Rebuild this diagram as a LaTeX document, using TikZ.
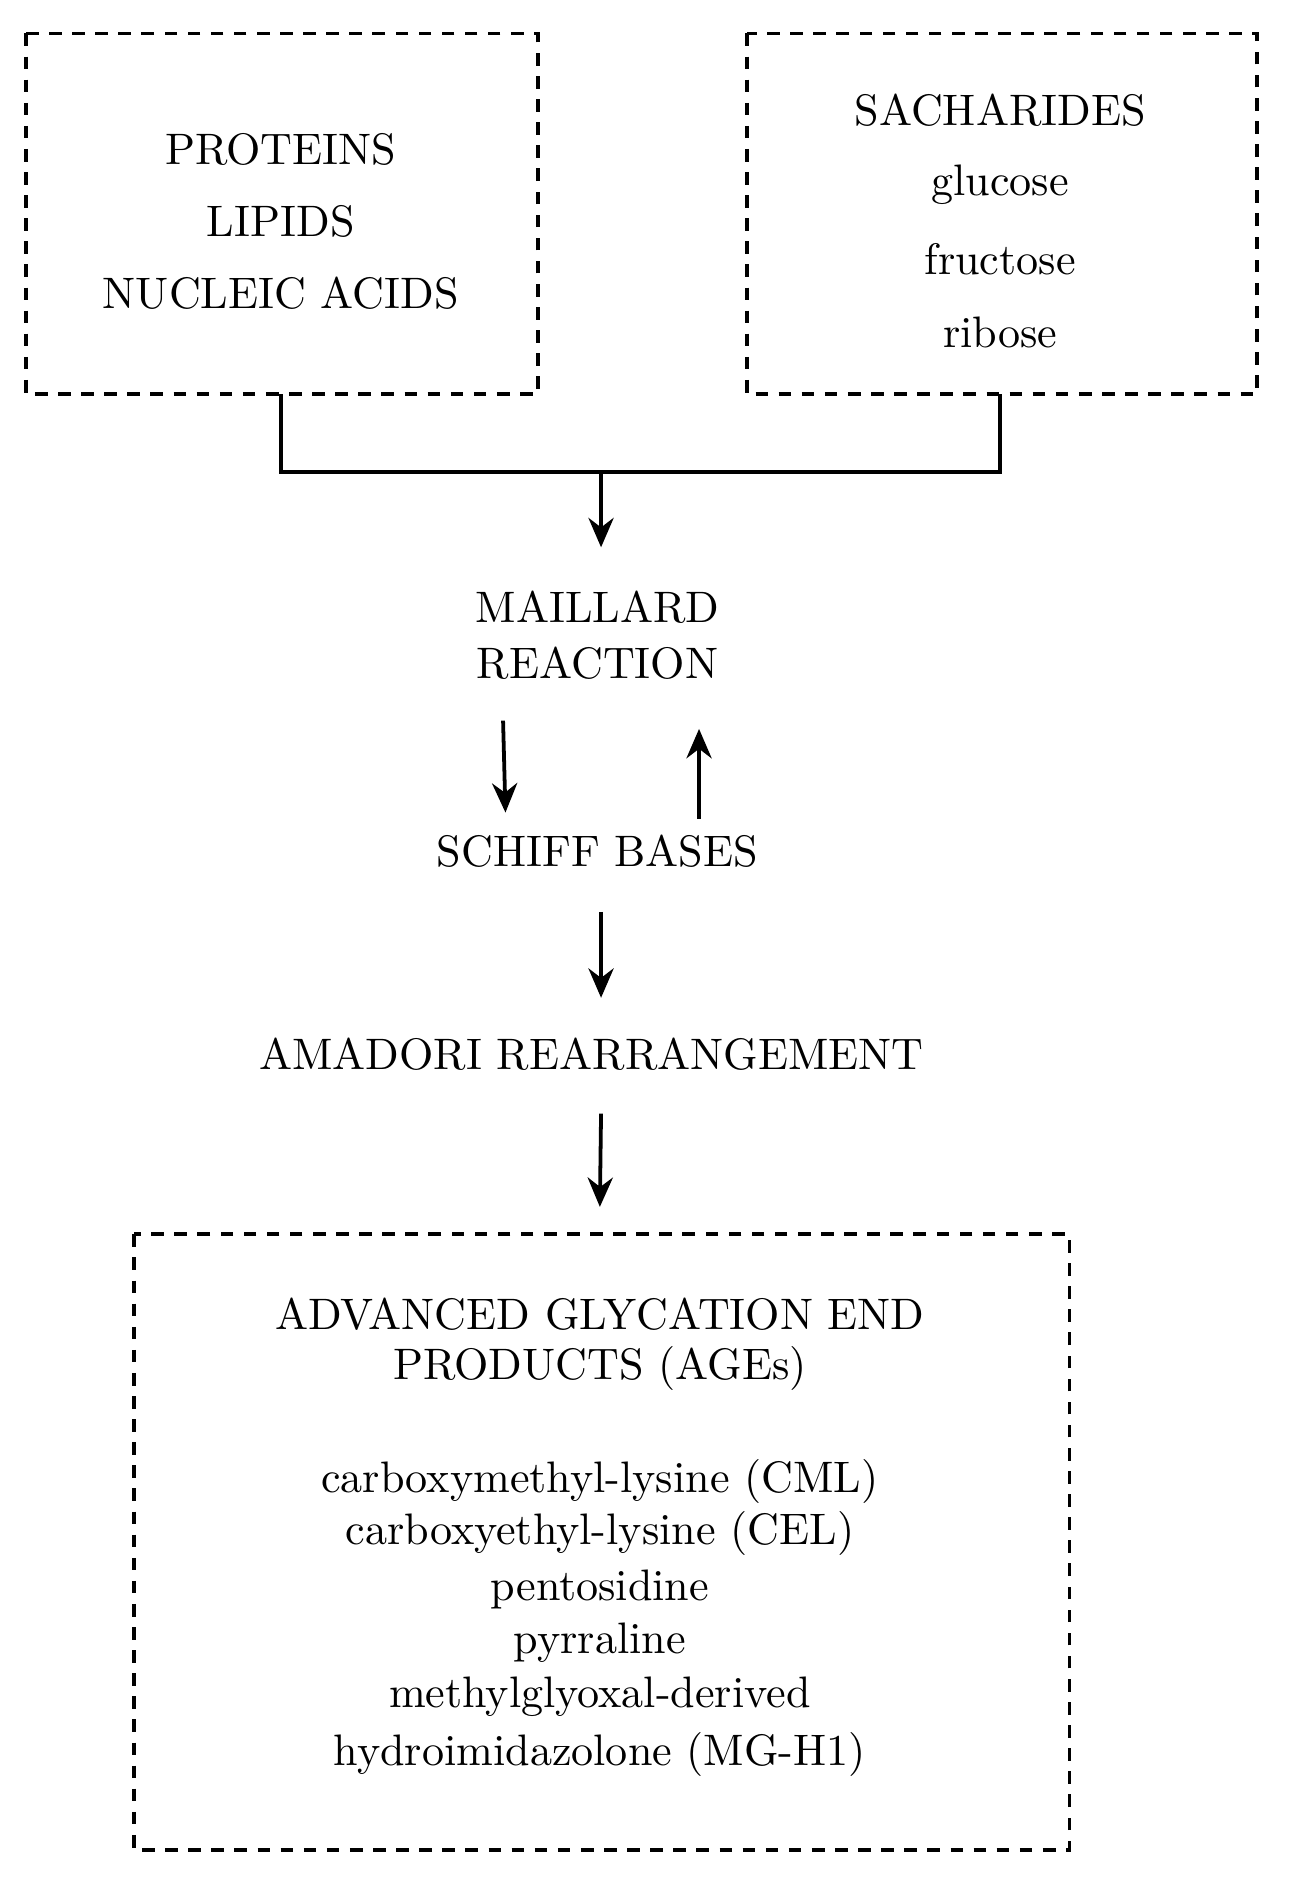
\documentclass[tikz,border=0pt]{standalone}
\usetikzlibrary{arrows.meta}
\begin{document}
\begin{tikzpicture}[x=0.1mm,y=-0.1mm,
  box/.style={draw,dashed,line width=0.9pt,dash pattern=on 3pt off 2.5pt},
  txt/.style={font=\fontsize{10.5}{12}\selectfont,inner sep=0},
  arr/.style={line width=0.9pt,-{Stealth[length=7pt,width=6pt]}},
  ln/.style={line width=0.9pt}]
\useasboundingbox (0,0) rectangle (1080,1580);
\draw[box] (22,28) rectangle (450,330);
\draw[box] (625,28) rectangle (1052,330);
\draw[box] (112,1033) rectangle (895,1548);
\node[txt] (p) at (235,125) {PROTEINS};
\node[txt] (l) at (235,185) {LIPIDS};
\node[txt] (n) at (235,245) {NUCLEIC ACIDS};
\node[txt] (s) at (837,92) {SACHARIDES};
\node[txt] (g) at (837,155) {glucose};
\node[txt] (f) at (837,217) {fructose};
\node[txt] (r) at (837,278) {ribose};
\coordinate (lb) at (235,330);
\coordinate (rb) at (837,330);
\coordinate (j) at (503,395);
\coordinate (j2) at (503,458);
\draw[ln] (lb) |- (j) -| (rb);
\draw[arr] (j) -- (j2);
\node[txt] (m1) at (500,508) {MAILLARD};
\node[txt] (m2) at (500,555) {REACTION};
\coordinate (a1) at (421,603); \coordinate (a2) at (423,680);
\coordinate (b1) at (585,685); \coordinate (b2) at (585,610);
\draw[arr] (a1) -- (a2);
\draw[arr] (b1) -- (b2);
\node[txt] (sb) at (500,712) {SCHIFF BASES};
\coordinate (c1) at (503,763); \coordinate (c2) at (503,835);
\draw[arr] (c1) -- (c2);
\node[txt] (am) at (495,882) {AMADORI REARRANGEMENT};
\coordinate (d1) at (503,932); \coordinate (d2) at (502,1010);
\draw[arr] (d1) -- (d2);
\node[txt] at (502,1100) {ADVANCED GLYCATION END};
\node[txt] at (502,1145) {PRODUCTS (AGEs)};
\node[txt] at (502,1240) {carboxymethyl-lysine (CML)};
\node[txt] at (502,1283) {carboxyethyl-lysine (CEL)};
\node[txt] at (502,1330) {pentosidine};
\node[txt] at (502,1375) {pyrraline};
\node[txt] at (502,1420) {methylglyoxal-derived};
\node[txt] at (502,1468) {hydroimidazolone (MG-H1)};
\end{tikzpicture}
\end{document}
